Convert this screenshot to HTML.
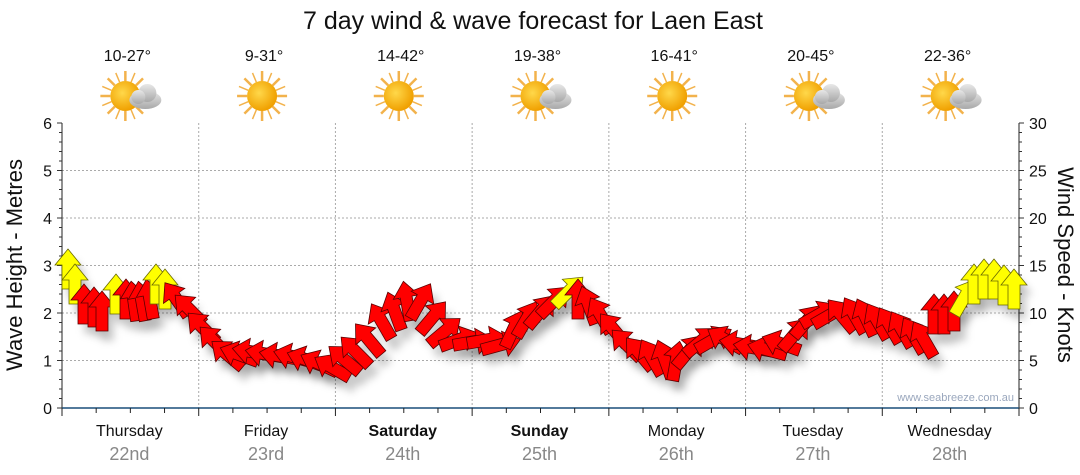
<!DOCTYPE html>
<html><head><meta charset="utf-8">
<style>
body{margin:0;background:#fff;width:1080px;height:475px;overflow:hidden}
svg{display:block}
text{font-family:"Liberation Sans",sans-serif}
</style></head><body>
<svg id="s" width="1080" height="475" xmlns="http://www.w3.org/2000/svg">
<defs>
<filter id="sh" x="-50%" y="-50%" width="200%" height="200%"><feGaussianBlur stdDeviation="4"/></filter>
<radialGradient id="sun" cx="0.4" cy="0.4" r="0.6"><stop offset="0" stop-color="#ffd84a"/><stop offset="1" stop-color="#f0a000"/></radialGradient>
<linearGradient id="cl" x1="0" y1="0" x2="0" y2="1"><stop offset="0" stop-color="#e8e8e8"/><stop offset="1" stop-color="#a8a8a8"/></linearGradient>
</defs>
<text x="533" y="29" font-size="25" text-anchor="middle" fill="#111">7 day wind &amp; wave forecast for Laen East</text>
<g id="grid"></g>
<g id="arr"></g>
<text x="1014" y="401" font-size="11" text-anchor="end" fill="#9aa7bd">www.seabreeze.com.au</text>
<text transform="translate(22,265) rotate(-90)" font-size="22" text-anchor="middle" fill="#111">Wave Height - Metres</text>
<text transform="translate(1058,265) rotate(90)" font-size="22" text-anchor="middle" fill="#111">Wind Speed - Knots</text>
</svg>
<script>
const s=document.getElementById('s'),g=document.getElementById('grid'),A=document.getElementById('arr');
let h='';
const X0=62,X1=1019,Y0=408,pm=47.5,dw=(X1-X0)/7;
for(let i=1;i<=5;i++){const y=Y0-i*pm;h+=`<line x1="${X0}" x2="${X1}" y1="${y}" y2="${y}" stroke="#aaa" stroke-dasharray="2,2"/>`;}
for(let i=1;i<7;i++){const x=X0+i*dw;h+=`<line x1="${x}" x2="${x}" y1="123" y2="${Y0}" stroke="#aaa" stroke-dasharray="2,2"/>`;}
h+=`<line x1="${X0}" x2="${X0}" y1="123" y2="${Y0+4}" stroke="#222"/><line x1="${X1}" x2="${X1}" y1="123" y2="${Y0+4}" stroke="#222"/>`;
for(let i=0;i<=30;i++){const y=Y0-i*pm/5;const big=i%5==0;
h+=`<line x1="${X0-(big?5:3)}" x2="${X0}" y1="${y}" y2="${y}" stroke="#333"/>`;
h+=`<line x1="${X1}" x2="${X1+(big?5:3)}" y1="${y}" y2="${y}" stroke="#333"/>`;
if(big){h+=`<text x="${X0-10}" y="${y+6}" font-size="16" text-anchor="end" fill="#111">${i/5}</text><text x="${X1+10}" y="${y+6}" font-size="16" fill="#111">${i}</text>`;}}
h+=`<line x1="${X0}" x2="${X1}" y1="${Y0}" y2="${Y0}" stroke="#1a4f7a" stroke-width="1.5"/>`;
for(let i=0;i<=28;i++){const x=X0+i*dw/4;h+=`<line x1="${x}" x2="${x}" y1="${Y0}" y2="${Y0+(i%4==0?8:5)}" stroke="#222"/>`;}
const days=['Thursday','Friday','Saturday','Sunday','Monday','Tuesday','Wednesday'],dates=['22nd','23rd','24th','25th','26th','27th','28th'],temps=['10-27°','9-31°','14-42°','19-38°','16-41°','20-45°','22-36°'],cloud=[1,0,0,1,0,1,1];
for(let i=0;i<7;i++){const c=X0+dw*(i+0.5)-1;const b=(i==2||i==3)?' font-weight="bold"':'';
h+=`<text x="${c}" y="436" font-size="16" text-anchor="middle" fill="#111"${b}>${days[i]}</text><text x="${c}" y="460" font-size="18" text-anchor="middle" fill="#888">${dates[i]}</text><text x="${c-2}" y="61" font-size="16" text-anchor="middle" fill="#111">${temps[i]}</text>`;
const sx=c-4,sy=96;let r='';for(let k=0;k<16;k++){const a=k*Math.PI/8;r+=`<line x1="${sx+15*Math.cos(a)}" y1="${sy+15*Math.sin(a)}" x2="${sx+25*Math.cos(a)}" y2="${sy+25*Math.sin(a)}" stroke="#f0a020" stroke-width="${k%2?1.5:2.5}" opacity="0.8"/>`;}
h+=r+`<circle cx="${sx}" cy="${sy}" r="15" fill="url(#sun)"/>`;
if(cloud[i])h+=`<g fill="url(#cl)"><ellipse cx="${sx+20}" cy="${sy+4}" rx="16" ry="9"/><circle cx="${sx+22}" cy="${sy-3}" r="9"/><circle cx="${sx+13}" cy="${sy+1}" r="7"/></g>`;}
g.innerHTML=h;
const P=[[68,270,0,1],[75,285,0,1],[84,305,0,0],[94,308,0,0],[102,312,0,0],[116,295,0,1],[126,300,0,0],[134,302,-8,0],[142,302,-10,0],[150,300,-10,0],[156,285,0,1],[165,290,0,1],[177,300,-35,0],[190,310,-45,0],
[203,328,-45,0],[215,342,-45,0],[228,355,-50,0],[240,355,-70,0],[253,352,-80,0],[266,354,-80,0],[280,356,-80,0],[294,357,-75,0],[307,360,-70,0],[320,364,-65,0],[333,368,-60,0],
[345,360,-50,0],[356,352,-45,0],[369,340,-40,0],[382,322,-30,0],[395,312,-20,0],[407,302,-10,0],[420,302,30,0],[432,318,40,0],[444,332,50,0],[458,340,70,0],[472,342,80,0],
[486,340,80,0],[500,345,75,0],[513,330,25,0],[526,320,30,0],[540,312,40,0],[553,302,45,0],[568,292,45,1],[578,300,0,0],[589,306,-20,0],[601,316,-30,0],[614,330,-40,0],[627,345,-45,0],[640,354,-40,0],[652,358,-30,0],[665,360,-20,0],[676,362,10,0],
[688,352,40,0],[700,342,50,0],[713,340,60,0],[726,340,-60,0],[740,344,-80,0],[754,348,-80,0],[768,350,-75,0],[782,344,-70,0],[794,335,40,0],[806,322,40,0],[818,315,60,0],[830,315,60,0],[842,316,-40,0],
[855,316,-30,0],[866,318,-25,0],[878,322,-30,0],[890,326,-30,0],[902,330,-30,0],[914,336,-30,0],[924,340,-30,0],[934,315,0,0],[944,315,0,0],[954,312,0,0],[964,298,30,1],[974,285,0,1],[984,280,0,1],[994,280,0,1],[1004,286,0,1],[1014,290,0,1]];
let a='',sh='';
const poly="0,-21 13,-5 6,-5 6,19 -6,19 -6,-5 -13,-5";
for(const [x,y,r,c] of P){sh+=`<polygon points="${poly}" transform="translate(${x+6},${y+10}) rotate(${r})" fill="#000" opacity="0.2"/>`;
a+=`<polygon points="${poly}" transform="translate(${x},${y}) rotate(${r})" fill="${c?'#ffff00':'#ff0000'}" stroke="${c?'#6a6a00':'#5a0000'}" stroke-width="0.8"/>`;}
A.innerHTML=`<g filter="url(#sh)">${sh}</g>`+a;
</script>
</body></html>
